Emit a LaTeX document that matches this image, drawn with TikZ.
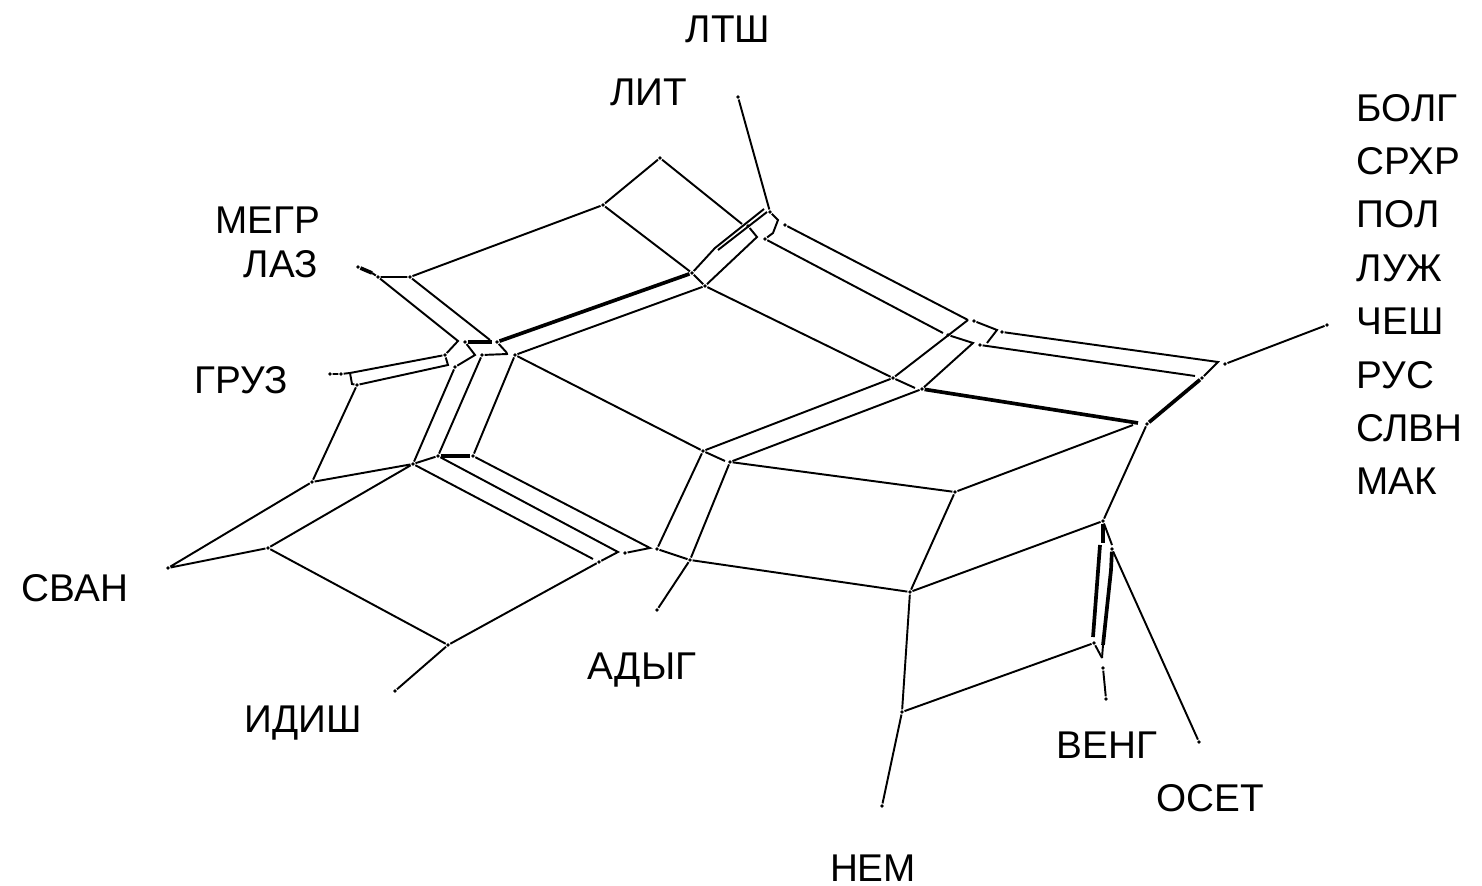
\documentclass[tikz,border=0pt]{standalone}
\usepackage{fontspec}
\setmainfont{Liberation Sans}
\usetikzlibrary{positioning}

\tikzset{
    edge/.style={line width=0.55pt, black},
    heavy/.style={line width=1.05pt, black},
    vtx/.style={circle, fill=black, inner sep=0pt, minimum size=1.1pt},
    lang/.style={font=\fontsize{11}{13}\selectfont, anchor=base, inner sep=0pt},
    langr/.style={lang, anchor=base west}
}

\begin{document}
\begin{tikzpicture}[x=0.01cm, y=-0.01cm]
    \useasboundingbox (0,0) rectangle (1482,886);

    \node[lang] (ltsh) at (728,43) {ЛТШ};
    \node[lang] (lit) at (649,106) {ЛИТ};
    \node[lang] (megr) at (268,234) {МЕГР};
    \node[lang] (laz) at (281,278) {ЛАЗ};
    \node[lang] (gruz) at (241,394) {ГРУЗ};
    \node[lang] (svan) at (75,602) {СВАН};
    \node[lang] (idish) at (303,733) {ИДИШ};
    \node[lang] (adyg) at (642,680) {АДЫГ};
    \node[lang] (nem) at (873,882) {НЕМ};
    \node[lang] (veng) at (1107,759) {ВЕНГ};
    \node[lang] (oset) at (1210,812) {ОСЕТ};
    \node[langr] (bolg) at (1356,122) {БОЛГ};
    \node[langr] (srhr) at (1356,175) {СРХР};
    \node[langr] (pol) at (1356,228) {ПОЛ};
    \node[langr] (luzh) at (1356,282) {ЛУЖ};
    \node[langr] (chesh) at (1356,335) {ЧЕШ};
    \node[langr] (rus) at (1356,389) {РУС};
    \node[langr] (slvn) at (1356,442) {СЛВН};
    \node[langr] (mak) at (1356,495) {МАК};

    % free ends beside the labels
    \node[vtx] (megrEnd) at (358,267) {};
    \node[vtx] (ltshEnd) at (738,97) {};
    \node[vtx] (gruzEnd) at (330,374) {};
    \node[vtx] (svanEnd) at (168,568) {};
    \node[vtx] (idishEnd) at (395,691) {};
    \node[vtx] (adygEnd) at (657,610) {};
    \node[vtx] (nemEnd) at (882,806) {};
    \node[vtx] (vengEnd) at (1106,699) {};
    \node[vtx] (osetEnd) at (1199,742) {};
    \node[vtx] (cheshEnd) at (1327,325) {};

    % west part
    \node[vtx] (lazA) at (378,277) {};
    \node[vtx] (lazB) at (410,277) {};
    \coordinate (megrMid) at (372,273);
    \coordinate (lazC) at (458,341);
    \coordinate (lazD) at (490,340);
    \node[vtx] (hubA) at (465,342) {};
    \coordinate (hubB) at (492,342);
    \node[vtx] (hubC) at (497,342) {};
    \coordinate (hubD) at (475,355);
    \coordinate (hubE) at (507,353);
    \node[vtx] (hubF) at (482,355) {};
    \coordinate (hubG) at (508,354);
    \node[vtx] (hubH) at (515,355) {};
    \node[vtx] (gruzA) at (445,355) {};
    \node[vtx] (gruzB) at (341,374) {};
    \coordinate (gruzC) at (350,373);
    \coordinate (gruzD) at (352,384);
    \node[vtx] (gruzE) at (357,385) {};
    \coordinate (gruzF) at (448,365);
    \node[vtx] (gruzG) at (455,367) {};
    \node[vtx] (svanA) at (312,482) {};
    \node[vtx] (svanB) at (268,548) {};
    \node[vtx] (midA) at (413,464) {};
    \node[vtx] (midB) at (438,456) {};
    \node[vtx] (midC) at (473,456) {};
    \coordinate (lowA) at (593,559);
    \node[vtx] (lowB) at (599,562) {};
    \coordinate (lowC) at (618,552);
    \node[vtx] (lowD) at (625,553) {};
    \coordinate (lowE) at (650,548);
    \node[vtx] (lowF) at (657,549) {};
    \node[vtx] (lowG) at (690,560) {};
    \node[vtx] (idishA) at (448,645) {};

    % north part
    \node[vtx] (litA) at (603,205) {};
    \node[vtx] (litB) at (660,158) {};
    \node[vtx] (ridgeA) at (692,273) {};
    \node[vtx] (ridgeB) at (705,286) {};
    \coordinate (ridgeC) at (715,248);
    \coordinate (ridgeD) at (764,209);
    \coordinate (ridgeE) at (718,250);
    \coordinate (ridgeF) at (767,212);
    \coordinate (litC) at (742,224);
    \node[vtx] (litD) at (748,226) {};
    \coordinate (litE) at (757,237);
    \node[vtx] (ltshA) at (770,212) {};
    \coordinate (ltshB) at (778,220);
    \coordinate (ltshC) at (773,233);
    \node[vtx] (ltshD) at (765,239) {};
    \node[vtx] (ltshE) at (785,225) {};

    % east part
    \coordinate (eastA) at (968,320);
    \coordinate (eastB) at (943,333);
    \node[vtx] (eastC) at (974,321) {};
    \node[vtx] (eastD) at (948,335) {};
    \coordinate (eastE) at (973,343);
    \node[vtx] (eastF) at (980,345) {};
    \coordinate (eastG) at (997,330);
    \coordinate (eastH) at (987,343);
    \node[vtx] (eastI) at (1002,332) {};
    \coordinate (eastJ) at (1218,362);
    \coordinate (eastK) at (1195,376);
    \node[vtx] (eastL) at (1202,378) {};
    \node[vtx] (eastM) at (1225,364) {};
    \node[vtx] (cenA) at (893,378) {};
    \coordinate (cenB) at (915,388);
    \node[vtx] (cenC) at (922,389) {};
    \coordinate (cenD) at (1138,423);
    \node[vtx] (cenE) at (1147,424) {};
    \coordinate (cenF) at (1133,425);
    \node[vtx] (sthA) at (703,451) {};
    \coordinate (sthB) at (725,461);
    \node[vtx] (sthC) at (730,462) {};
    \node[vtx] (sthD) at (955,492) {};
    \node[vtx] (sthE) at (910,592) {};
    \node[vtx] (sthF) at (1103,521) {};
    \node[vtx] (nemA) at (902,712) {};
    \node[vtx] (nemB) at (1094,643) {};
    \coordinate (vengA) at (1103,543);
    \coordinate (vengB) at (1100,545);
    \coordinate (vengC) at (1093,637);
    \coordinate (vengD) at (1112,545);
    \node[vtx] (vengE) at (1112,549) {};
    \coordinate (vengF) at (1111,570);
    \coordinate (vengG) at (1103,645);
    \coordinate (vengH) at (1102,658);
    \node[vtx] (vengI) at (1103,668) {};

    \draw[heavy] (megrEnd) -- (megrMid);
    \draw[edge] (megrMid) -- (lazA) -- (lazB) -- (litA) -- (litB) -- (litC);
    \draw[edge] (lazA) -- (lazC) -- (gruzA) -- (gruzC) -- (gruzB) -- (gruzEnd);
    \draw[edge] (lazB) -- (lazD);
    \draw[heavy] (hubA) -- (hubB);
    \draw[heavy] (hubC) -- (ridgeA);
    \draw[edge] (hubA) -- (hubD) -- (gruzG) -- (midA);
    \draw[edge] (gruzA) -- (gruzF) -- (gruzE) -- (gruzD) -- (gruzC);
    \draw[edge] (gruzE) -- (svanA) -- (svanEnd) -- (svanB) -- (midA) -- (svanA);
    \draw[edge] (hubC) -- (hubE);
    \draw[edge] (hubF) -- (hubG);
    \draw[edge] (hubF) -- (midB);
    \draw[edge] (hubH) -- (midC);
    \draw[edge] (midA) -- (midB);
    \draw[heavy] (midB) -- (midC);
    \draw[edge] (midA) -- (lowA);
    \draw[edge] (midB) -- (lowC) -- (lowB) -- (idishA) -- (svanB);
    \draw[edge] (midC) -- (lowE) -- (lowD);
    \draw[edge] (idishA) -- (idishEnd);
    \draw[edge] (lowF) -- (lowG) -- (sthE);
    \draw[edge] (lowG) -- (adygEnd);

    \draw[edge] (litA) -- (ridgeA) -- (ridgeB) -- (hubH) -- (sthA) -- (sthB);
    \draw[edge] (ridgeA) -- (ridgeC) -- (ridgeD);
    \draw[edge] (ridgeE) -- (ridgeF);
    \draw[edge] (litD) -- (litE) -- (ridgeB) -- (cenA) -- (eastA);
    \draw[edge] (ltshEnd) -- (ltshA) -- (ltshB) -- (ltshC) -- (ltshD) -- (eastB);
    \draw[edge] (ltshE) -- (eastA);

    \draw[edge] (eastC) -- (eastG) -- (eastH);
    \draw[edge] (eastD) -- (eastE) -- (cenC);
    \draw[edge] (eastI) -- (eastJ) -- (eastL);
    \draw[edge] (eastF) -- (eastK);
    \draw[edge] (eastM) -- (cheshEnd);
    \draw[edge] (cenA) -- (cenB);
    \draw[edge] (cenA) -- (sthA) -- (lowF);
    \draw[edge] (cenC) -- (sthC) -- (lowG);
    \draw[heavy] (cenC) -- (cenD);
    \draw[heavy] (eastL) -- (cenE);
    \draw[edge] (cenE) -- (sthF) -- (sthE) -- (nemA) -- (nemEnd);
    \draw[edge] (cenF) -- (sthD) -- (sthC);
    \draw[edge] (sthD) -- (sthE);
    \draw[edge] (nemA) -- (nemB) -- (vengH);
    \draw[heavy] (sthF) -- (vengA);
    \draw[heavy] (vengB) -- (vengC);
    \draw[edge] (sthF) -- (vengD);
    \draw[heavy] (vengE) -- (vengF) -- (vengG);
    \draw[edge] (vengG) -- (vengH);
    \draw[edge] (vengI) -- (vengEnd);
    \draw[edge] (vengE) -- (osetEnd);
\end{tikzpicture}
\end{document}
